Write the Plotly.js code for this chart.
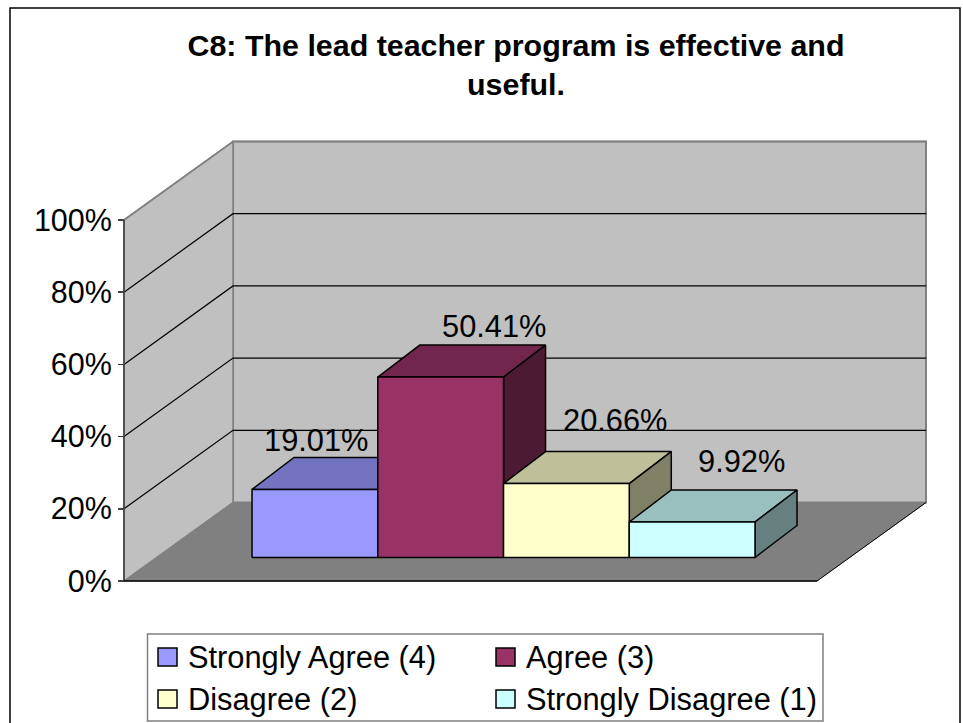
<!DOCTYPE html>
<html><head><meta charset="utf-8">
<script src="https://cdn.plot.ly/plotly-3.0.1.min.js"></script>
<style>html,body{margin:0;padding:0;background:#fff}#c{width:963px;height:723px}</style></head>
<body><div id="c"></div>
<script>
const categories = ["Strongly Agree (4)", "Agree (3)", "Disagree (2)", "Strongly Disagree (1)"];
const values = [19.01, 50.41, 20.66, 9.92];
const valueLabels = ["19.01%", "50.41%", "20.66%", "9.92%"];
const frontColors = ["#9999FF", "#993366", "#FFFFCC", "#CCFFFF"];
const topColors = ["#7373BF", "#73264D", "#BFBF99", "#99BFBF"];
const sideColors = ["#4D4D80", "#4D1A33", "#808066", "#668080"];
const yTicks = [0, 20, 40, 60, 80, 100];
const yTickLabels = ["0%", "20%", "40%", "60%", "80%", "100%"];
const labelShiftX = [1, 53, 49, 49];
const labelShiftY = [49, 51, 63, 60];

const W = 963, H = 723, FONT = 'Liberation Sans, Arial, sans-serif';
// horizontal: one category = 125.75 px, first bar centred at 314.9 px
const PXX = 125.75, X0 = 314.9;
const xpx = p => (p - X0) / PXX;
// wall axis y: 0% at 581 px, 100% at 220 px
const PY = 3.61, Y0 = 581;
// bar axis y2: 0% at 557.5 px
const PY2 = 3.58, Y20 = 557.5;
const DX = 42 / PXX, DY2 = 32 / PY2;     // bar depth
const WDX = 109 / PXX, WDY = 78.5 / PY;  // wall depth
const xL = xpx(124), xR = xpx(817);

function poly(xs, ys, fill, line, width, axis) {
  return {type:'scatter', mode:'lines', x:[...xs, xs[0]], y:[...ys, ys[0]], fill:'toself', fillcolor:fill,
    line:{color:line, width:width}, yaxis:axis||'y', xaxis:'x', hoverinfo:'skip', showlegend:false};
}
function seg(xs, ys, color, width) {
  return {type:'scatter', mode:'lines', x:xs, y:ys, line:{color:color, width:width}, hoverinfo:'skip', showlegend:false};
}
const traces = [];
// walls + floor
traces.push(poly([xL+WDX, xR+WDX, xR+WDX, xL+WDX], [WDY, WDY, 100+WDY, 100+WDY], '#C0C0C0', '#808080', 2));
traces.push(poly([xL, xL+WDX, xL+WDX, xL], [0, WDY, 100+WDY, 100], '#C0C0C0', '#808080', 1.5));
traces.push(poly([xL, xL+WDX, xR+WDX, xR], [0, WDY, WDY, 0], '#808080', '#808080', 1));
yTicks.filter(t => t > 0 && t < 100).forEach(t => {
  traces.push(seg([xL, xL+WDX, xR+WDX], [t, t+WDY, t+WDY], '#000', 1.2));
});
traces.push(seg([xL, xL+WDX, xR+WDX], [100, 100+WDY, 100+WDY], '#808080', 1.6));
traces.push(seg([xL, xL], [0, 100], '#404040', 1.6));
traces.push(seg([xL, xR], [0, 0], '#000', 1.5));
traces.push(seg([xR, xR+WDX], [0, WDY], '#000', 1));
// bars
values.forEach((v, i) => {
  const a = i - .5, b = i + .5;
  traces.push(poly([a, b, b+DX, a+DX], [v, v, v+DY2, v+DY2], topColors[i], '#000', 1.5, 'y2'));
  traces.push(poly([b, b+DX, b+DX, b], [0, DY2, v+DY2, v], sideColors[i], '#000', 1.5, 'y2'));
  const f = poly([a, b, b, a], [0, 0, v, v], frontColors[i], '#000', 1.5, 'y2');
  f.name = categories[i];
  traces.push(f);
});

const annotations = values.map((v, i) => ({
  xref:'x', yref:'y2', x:i, y:v, text:valueLabels[i], showarrow:false, xanchor:'center', yanchor:'middle',
  xshift:labelShiftX[i], yshift:labelShiftY[i], font:{family:FONT, size:30.8, color:'#000'}
}));
// legend entries
const legendX = [158, 496], legendY = [657, 699];
const shapes = [
  {type:'rect', xref:'paper', yref:'paper', x0:10/W, x1:960/W, y0:1-8/H, y1:-0.01, line:{color:'#000', width:1.5}, fillcolor:'rgba(0,0,0,0)', layer:'below'},
  {type:'rect', xref:'paper', yref:'paper', x0:147.5/W, x1:823/W, y0:1-634/H, y1:1-721/H, line:{color:'#808080', width:1.5}, fillcolor:'#fff', layer:'above'}
];
categories.forEach((c, i) => {
  const lx = legendX[i % 2], ly = legendY[i >> 1];
  shapes.push({type:'rect', xref:'paper', yref:'paper', x0:lx/W, x1:(lx+19)/W, y0:1-(ly-9)/H, y1:1-(ly+9)/H,
    fillcolor:frontColors[i], line:{color:'#000', width:1.5}, layer:'above'});
  annotations.push({xref:'paper', yref:'paper', x:(lx+28)/W, y:1-ly/H, text:c, showarrow:false, xanchor:'left', yanchor:'middle',
    font:{family:FONT, size:30.8, color:'#000'}});
});

const layout = {
  width:W, height:H, margin:{l:0, r:0, t:0, b:0}, paper_bgcolor:'#fff', plot_bgcolor:'#fff', showlegend:false,
  title:{text:'C8: The lead teacher program is effective and<br>useful.', x:516/W, xanchor:'center', xref:'paper',
    y:1-55.5/H, yanchor:'middle', yref:'paper', font:{family:FONT, size:30.4, color:'#000', weight:700}},
  xaxis:{range:[xpx(0), xpx(W)], domain:[0,1], visible:false, fixedrange:true},
  yaxis:{range:[(Y0-H)/PY, Y0/PY], domain:[0,1], anchor:'free', position:124/W, tickmode:'array', tickvals:yTicks, ticktext:yTickLabels,
    ticks:'outside', ticklen:6, tickcolor:'#404040', tickwidth:1.5, showgrid:false, zeroline:false, showline:false,
    tickfont:{family:FONT, size:30.5, color:'#000'}, automargin:false, fixedrange:true},
  yaxis2:{range:[(Y20-H)/PY2, Y20/PY2], domain:[0,1], overlaying:'y', visible:false, fixedrange:true},
  annotations, shapes
};
Plotly.newPlot('c', traces, layout, {staticPlot:true, displayModeBar:false});
</script></body></html>
